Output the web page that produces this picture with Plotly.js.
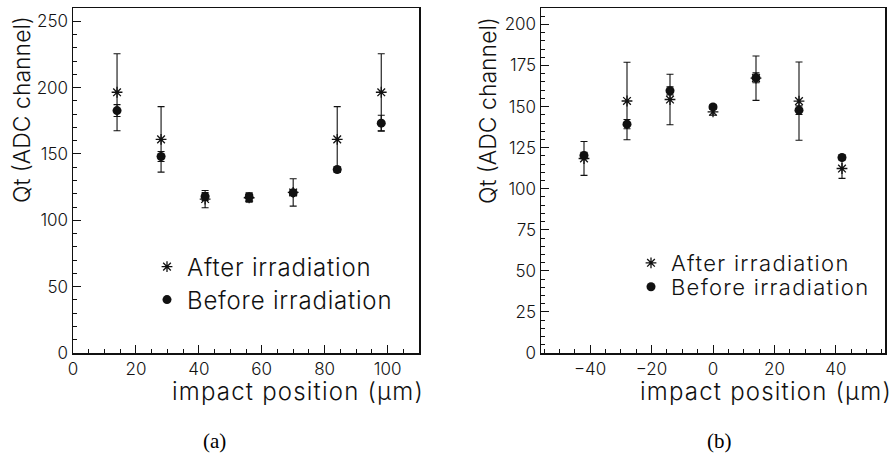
<!DOCTYPE html>
<html>
<head>
<meta charset="utf-8">
<script src="https://cdn.plot.ly/plotly-3.0.1.min.js"></script>
<style>html,body{margin:0;padding:0;background:#fff;}#chart{width:891px;height:463px;}</style>
</head>
<body>
<div id="chart"></div>
<script>
// ---- Data ----
var posA = [14, 28, 42, 56, 70, 84, 98];
var afterA = [196.5, 161, 116, 117, 121, 161, 196.5];
var afterAErr = [29, 24.7, 6.5, 3.3, 10.3, 24.7, 29];
var beforeA = [182.7, 148.1, 118, 117.5, 120.8, 138.3, 173.2];
var beforeAErr = [4.5, 3.8, 3, 3.3, 2, 2, 6];

var posB = [-42, -28, -14, 0, 14, 28, 42];
var afterB = [118.4, 153.4, 154.3, 146.8, 167.3, 153.3, 112.3];
var afterBErr = [10.3, 23.6, 15.4, 2, 13.5, 23.8, 6];
var beforeB = [120.2, 139.3, 159.6, 149.8, 167.5, 147.8, 119];
var beforeBErr = [2, 2.8, 2.5, 1.5, 3, 2.6, 1.5];

var seriesNames = ["After irradiation", "Before irradiation"];
var yTitle = "Qt (ADC channel)";
var xTitle = "impact position (\u03bcm)";
var captions = ["(a)", "(b)"];

// ---- Styling ----
var FONT = "Inter, DejaVu Sans, sans-serif";
var WT = 300;
var INK = "#111";

function spaced(t, ls) {
  return '<span style="letter-spacing:' + ls + 'px">' + t + '</span>';
}

function errBar(arr) {
  return {type: "data", array: arr, visible: true, color: INK, thickness: 1.1, width: 3.5};
}
function afterTrace(x, y, e, xa, ya, lg, ls) {
  return {x: x, y: y, xaxis: xa, yaxis: ya, type: "scatter", mode: "markers",
    name: spaced(seriesNames[0], ls), legend: lg, error_y: errBar(e),
    marker: {symbol: "asterisk-open", size: 9, color: INK, line: {color: INK, width: 1.3}}};
}
function beforeTrace(x, y, e, xa, ya, lg, ls) {
  return {x: x, y: y, xaxis: xa, yaxis: ya, type: "scatter", mode: "markers",
    name: spaced(seriesNames[1], ls), legend: lg, error_y: errBar(e),
    marker: {symbol: "circle", size: 9, color: INK}};
}

var data = [
  afterTrace(posA, afterA, afterAErr, "x", "y", "legend", 0.8),
  beforeTrace(posA, beforeA, beforeAErr, "x", "y", "legend2", 0.8),
  afterTrace(posB, afterB, afterBErr, "x2", "y2", "legend3", 1.3),
  beforeTrace(posB, beforeB, beforeBErr, "x2", "y2", "legend4", 1.3)
];

function axis(extra) {
  var a = {showline: true, mirror: true, linecolor: INK, linewidth: 1.5,
    showgrid: false, zeroline: false, ticks: "inside", ticklen: 8, tickwidth: 1,
    tickcolor: INK, tickfont: {family: FONT, size: 17, weight: WT, color: INK},
    fixedrange: true};
  for (var k in extra) a[k] = extra[k];
  return a;
}
function minor(dt) {
  return {ticks: "inside", ticklen: 4, tickwidth: 1, tickcolor: INK, dtick: dt, showgrid: false};
}

var W = 891, H = 463;
function px(x) { return x / W; }
function py(y) { return 1 - y / H; }

var ydom = [py(353), py(8)];

function legendAt(xl, yc, size) {
  return {x: px(xl), y: py(yc), xanchor: "left", yanchor: "middle",
    bgcolor: "rgba(0,0,0,0)", borderwidth: 0,
    font: {family: FONT, size: size, weight: WT, color: INK}};
}
function ann(x, y, text, xanchor, angle, size) {
  return {xref: "paper", yref: "paper", x: px(x), y: py(y), text: text, textangle: angle || 0,
    xanchor: xanchor, yanchor: "middle", showarrow: false,
    font: {family: FONT, size: size || 23, weight: WT, color: INK}};
}

var layout = {
  width: W, height: H,
  margin: {l: 0, r: 0, t: 0, b: 0},
  paper_bgcolor: "#fff", plot_bgcolor: "#fff",
  showlegend: true,
  xaxis: axis({domain: [px(73), px(419)], range: [0, 110], dtick: 20, tick0: 0, minor: minor(5), anchor: "y"}),
  yaxis: axis({domain: ydom, range: [0, 260], dtick: 50, tick0: 0, minor: minor(10), anchor: "x"}),
  xaxis2: axis({domain: [px(541), px(885)], range: [-56, 56], dtick: 20, tick0: 0, minor: minor(5), anchor: "y2"}),
  yaxis2: axis({domain: ydom, range: [0, 210], dtick: 25, tick0: 0, minor: minor(5), anchor: "x2"}),
  legend: legendAt(147, 267, 24),
  legend2: legendAt(147, 300, 24),
  legend3: legendAt(631, 263, 22),
  legend4: legendAt(631, 287, 22),
  annotations: [
    ann(22, 110, yTitle, "center", -90, 23),
    ann(488, 110, yTitle, "center", -90, 23),
    ann(170, 391, spaced(xTitle, 1.2), "left", 0, 24),
    ann(638, 391, spaced(xTitle, 1.2), "left", 0, 24),
    {xref: "paper", yref: "paper", x: px(214), y: py(441), text: captions[0],
      xanchor: "center", yanchor: "middle", showarrow: false, font: {family: "Liberation Serif, serif", size: 21, color: "#000"}},
    {xref: "paper", yref: "paper", x: px(719), y: py(441), text: captions[1],
      xanchor: "center", yanchor: "middle", showarrow: false, font: {family: "Liberation Serif, serif", size: 21, color: "#000"}}
  ]
};

Plotly.newPlot("chart", data, layout, {displayModeBar: false, staticPlot: true});
</script>
</body>
</html>
